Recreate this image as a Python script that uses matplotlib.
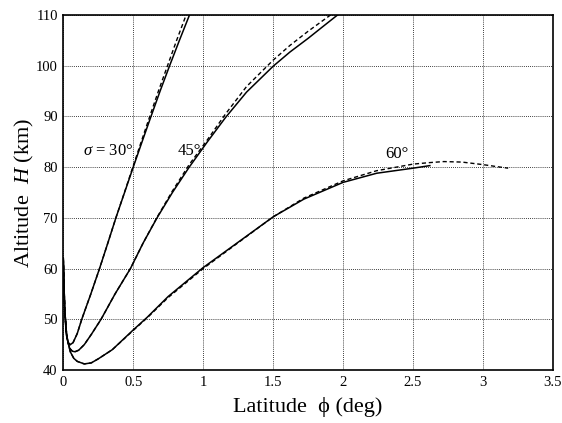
import matplotlib
matplotlib.use("Agg")
import matplotlib.pyplot as plt

plt.rcParams['font.family'] = ['Liberation Serif', 'DejaVu Serif']
plt.rcParams['mathtext.fontset'] = 'custom'
plt.rcParams['mathtext.rm'] = 'Liberation Serif'
plt.rcParams['mathtext.it'] = 'Liberation Serif:italic'

# sigma = 30 deg
x30 = [0.0, 0.01, 0.02, 0.035, 0.05, 0.07, 0.1, 0.132, 0.197, 0.259, 0.318, 0.376,
       0.438, 0.5, 0.563, 0.627, 0.692, 0.76, 0.83, 0.902]
y30 = [62, 52, 47.5, 45.4, 45.0, 45.4, 47.2, 50, 55, 60, 65, 70,
       75, 80, 85, 90, 95, 100, 105, 110]
x30d = [0.0, 0.01, 0.02, 0.035, 0.05, 0.07, 0.1, 0.132, 0.197, 0.259, 0.318, 0.376,
        0.437, 0.497, 0.557, 0.618, 0.68, 0.745, 0.81, 0.878]
y30d = y30

# sigma = 45 deg
x45 = [0.0, 0.01, 0.025, 0.045, 0.065, 0.084, 0.11, 0.15, 0.2, 0.27, 0.37, 0.48,
       0.57, 0.67, 0.78, 0.90, 1.03, 1.16, 1.31, 1.5, 1.62, 1.75, 1.85, 1.96]
y45 = [62, 52, 46.5, 44.3, 43.7, 43.6, 43.9, 45.0, 47.0, 50, 55, 60,
       65, 70, 75, 80, 85, 89.8, 94.8, 99.9, 102.7, 105.4, 107.6, 110]
x45d = [0.0, 0.01, 0.025, 0.045, 0.065, 0.084, 0.11, 0.15, 0.2, 0.27, 0.37, 0.48,
        0.57, 0.67, 0.78, 0.90, 1.03, 1.16, 1.31, 1.5, 1.62, 1.75, 1.85, 1.91]
y45d = [62, 52, 46.5, 44.3, 43.7, 43.6, 43.9, 45.0, 47.0, 50, 55, 60,
        65, 70.1, 75.3, 80.5, 85.4, 90.5, 95.9, 101.1, 104.0, 106.8, 108.8, 110]

# sigma = 60 deg
x60 = [0.0, 0.01, 0.025, 0.05, 0.075, 0.1, 0.15, 0.2, 0.25, 0.35, 0.5, 0.6,
       0.75, 1.0, 1.24, 1.5, 1.72, 2.0, 2.24, 2.5, 2.62]
y60 = [62, 52, 46.5, 43.6, 42.3, 41.7, 41.2, 41.4, 42.2, 44.0, 47.9, 50.4,
       54.5, 60.2, 65, 70.2, 73.7, 77.0, 78.8, 79.8, 80.3]
x60d = [0.0, 0.01, 0.025, 0.05, 0.075, 0.1, 0.15, 0.2, 0.25, 0.35, 0.5, 0.6,
        0.75, 1.0, 1.24, 1.5, 1.72, 2.0, 2.24, 2.5, 2.62, 2.72, 2.85, 3.0, 3.1, 3.18]
y60d = [62, 52, 46.5, 43.6, 42.3, 41.7, 41.2, 41.4, 42.2, 44.0, 47.8, 50.3,
        54.3, 60.0, 64.9, 70.2, 73.9, 77.3, 79.3, 80.6, 80.9, 81.1, 81.0, 80.5, 80.1, 79.8]

xticks = [0, 0.5, 1, 1.5, 2, 2.5, 3, 3.5]
xticklabels = ['0', '0.5', '1', '1.5', '2', '2.5', '3', '3.5']
yticks = [40, 50, 60, 70, 80, 90, 100, 110]

fig = plt.figure(figsize=(5.62, 4.23), dpi=100)
ax = fig.add_axes([0.1126, 0.1253, 0.8713, 0.8392])

lw = 1.1
dash = (0, (3, 2))
ax.plot(x30, y30, color='black', lw=lw)
ax.plot(x30d, y30d, color='black', lw=1.0, linestyle=dash)
ax.plot(x45, y45, color='black', lw=lw)
ax.plot(x45d, y45d, color='black', lw=1.0, linestyle=dash)
ax.plot(x60, y60, color='black', lw=lw)
ax.plot(x60d, y60d, color='black', lw=1.0, linestyle=dash)

ax.set_xlim(0, 3.5)
ax.set_ylim(40, 110)
ax.set_xticks(xticks)
ax.set_xticklabels(xticklabels)
ax.set_yticks(yticks)
ax.tick_params(length=0, labelsize=10.5, pad=4, colors='black')
ax.grid(True, color='black', linestyle=(0, (1, 1.5)), linewidth=0.6)

for s in ax.spines.values():
    s.set_linewidth(1.2)
    s.set_color('black')

ax.text(0.14, 82.3, r'$\sigma$ = 30°', fontsize=12)
ax.text(0.82, 82.3, '45°', fontsize=12)
ax.text(2.30, 81.8, '60°', fontsize=12)

ax.set_xlabel('Latitude  \u03d5 (deg)', fontsize=16, labelpad=6)
ax.set_ylabel('Altitude  $\\it{H}$ (km)', fontsize=16, labelpad=0)

fig.savefig('out.png', dpi=100)
